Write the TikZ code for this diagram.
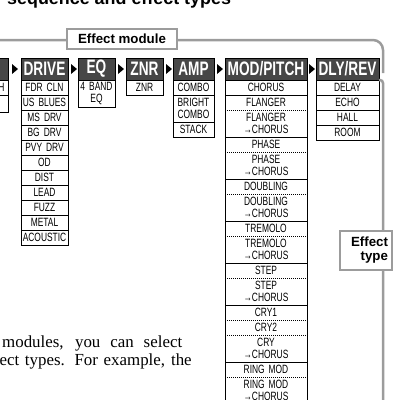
\documentclass[tikz,border=0pt]{standalone}
\usepackage{fontspec}
\setmainfont{Liberation Serif}
\newfontfamily\condfont[FakeStretch=0.7]{Liberation Sans}
\newfontfamily\lblfont{Liberation Sans}
\usepackage{xcolor}
\usetikzlibrary{calc,positioning}
\definecolor{hdgray}{HTML}{474747}
\definecolor{brgray}{HTML}{9C9C9C}

\begin{document}
\begin{tikzpicture}[x=1pt, y=-1pt,
  hd/.style={draw=black, line width=1pt, fill=hdgray, text=white, font=\condfont\bfseries\fontsize{19.5}{20}\selectfont, minimum height=22, inner sep=0pt, outer sep=0pt, align=center},
  cell/.style={draw=black, line width=1pt, font=\condfont\fontsize{12}{12.5}\selectfont, minimum height=15, inner sep=0pt, outer sep=0pt, align=center},
  tall/.style={cell, minimum height=27},
  modcell/.style={cell, draw=none},
  modtall/.style={tall, draw=none},
  sepline/.style={line width=1pt},
  dotline/.style={line width=0.8pt, dash pattern=on 0.8pt off 1.2pt},
  arrowhd/.style={fill=black},
  bracket/.style={draw=brgray, line width=2.5pt},
  tag/.style={draw=brgray, line width=2pt, fill=white, font=\lblfont\bfseries\fontsize{13.3}{14}\selectfont, inner sep=0pt}]
  \useasboundingbox (0,0) rectangle (400,400);

  \node[anchor=base west, inner sep=0pt, font=\lblfont\bfseries\fontsize{17.9}{20}\selectfont] (title) at (7,4.5) {sequence and effect types};

  \coordinate (brtop) at (-5,40);
  \coordinate (brend) at (383,73);
  \draw[bracket, rounded corners=10pt] (brtop) -| (brend);
  \node[tag, minimum width=110, minimum height=20] (efmod) at (122,39) {Effect module};

  \node[hd, text width=40, anchor=north east] (prevhd) at (8,58) {};
  \node[cell, text width=33, inner xsep=3.5pt, align=right, below=0pt of prevhd] (prev1) {H};
  \node[cell, text width=40, minimum height=17, below=0pt of prev1] (prev2) {};

  \node[hd, text width=47, anchor=north west] (drivehd) at (21,58) {DRIVE};
  \node[cell, text width=47, below=0pt of drivehd] (fdr) {FDR CLN};
  \node[cell, text width=47, below=0pt of fdr] (usb) {US BLUES};
  \node[cell, text width=47, below=0pt of usb] (msd) {MS DRV};
  \node[cell, text width=47, below=0pt of msd] (bgd) {BG DRV};
  \node[cell, text width=47, below=0pt of bgd] (pvy) {PVY DRV};
  \node[cell, text width=47, below=0pt of pvy] (od) {OD};
  \node[cell, text width=47, below=0pt of od] (dist) {DIST};
  \node[cell, text width=47, below=0pt of dist] (lead) {LEAD};
  \node[cell, text width=47, below=0pt of lead] (fuzz) {FUZZ};
  \node[cell, text width=47, below=0pt of fuzz] (metal) {METAL};
  \node[cell, text width=47, below=0pt of metal] (acou) {ACOUSTIC};

  \node[hd, text width=37, anchor=north west] (eqhd) at (78,58) {EQ};
  \node[tall, text width=37, below=0pt of eqhd] (band) {4 BAND\\EQ};

  \node[hd, text width=37, anchor=north west] (znrhd) at (126,58) {ZNR};
  \node[cell, text width=37, below=0pt of znrhd] (znr) {ZNR};

  \node[hd, text width=41, anchor=north west] (amphd) at (173,58) {AMP};
  \node[cell, text width=41, below=0pt of amphd] (combo) {COMBO};
  \node[tall, text width=41, below=0pt of combo] (bright) {BRIGHT\\COMBO};
  \node[cell, text width=41, below=0pt of bright] (stack) {STACK};

  \node[hd, text width=82, anchor=north west] (modhd) at (225,58) {MOD/PITCH};
  \node[modcell, text width=82, below=0pt of modhd] (mchor) {CHORUS};
  \node[modcell, text width=82, below=0pt of mchor] (mfl) {FLANGER};
  \node[modtall, text width=82, below=0pt of mfl] (mflc) {FLANGER\\→CHORUS};
  \node[modcell, text width=82, below=0pt of mflc] (mph) {PHASE};
  \node[modtall, text width=82, below=0pt of mph] (mphc) {PHASE\\→CHORUS};
  \node[modcell, text width=82, below=0pt of mphc] (mdb) {DOUBLING};
  \node[modtall, text width=82, below=0pt of mdb] (mdbc) {DOUBLING\\→CHORUS};
  \node[modcell, text width=82, below=0pt of mdbc] (mtr) {TREMOLO};
  \node[modtall, text width=82, below=0pt of mtr] (mtrc) {TREMOLO\\→CHORUS};
  \node[modcell, text width=82, below=0pt of mtrc] (mst) {STEP};
  \node[modtall, text width=82, below=0pt of mst] (mstc) {STEP\\→CHORUS};
  \node[modcell, text width=82, below=0pt of mstc] (mcr1) {CRY1};
  \node[modcell, text width=82, below=0pt of mcr1] (mcr2) {CRY2};
  \node[modtall, text width=82, below=0pt of mcr2] (mcrc) {CRY\\→CHORUS};
  \node[modcell, text width=82, below=0pt of mcrc] (mrm) {RING MOD};
  \node[modtall, text width=82, below=0pt of mrm] (mrmc) {RING MOD\\→CHORUS};
  \draw[sepline] (modhd.south west) -- (mrmc.south west);
  \draw[sepline] (modhd.south east) -- (mrmc.south east);
  \draw[sepline] (mchor.south west) -- (mchor.south east);
  \draw[dotline] (mfl.south west) -- (mfl.south east);
  \draw[sepline] (mflc.south west) -- (mflc.south east);
  \draw[dotline] (mph.south west) -- (mph.south east);
  \draw[sepline] (mphc.south west) -- (mphc.south east);
  \draw[dotline] (mdb.south west) -- (mdb.south east);
  \draw[sepline] (mdbc.south west) -- (mdbc.south east);
  \draw[dotline] (mtr.south west) -- (mtr.south east);
  \draw[sepline] (mtrc.south west) -- (mtrc.south east);
  \draw[dotline] (mst.south west) -- (mst.south east);
  \draw[sepline] (mstc.south west) -- (mstc.south east);
  \draw[dotline] (mcr1.south west) -- (mcr1.south east);
  \draw[dotline] (mcr2.south west) -- (mcr2.south east);
  \draw[sepline] (mcrc.south west) -- (mcrc.south east);
  \draw[dotline] (mrm.south west) -- (mrm.south east);

  \node[hd, text width=63, anchor=north west] (dlyhd) at (316,58) {DLY/REV};
  \node[cell, text width=63, below=0pt of dlyhd] (delay) {DELAY};
  \node[cell, text width=63, below=0pt of delay] (echo) {ECHO};
  \node[cell, text width=63, below=0pt of echo] (hall) {HALL};
  \node[cell, text width=63, below=0pt of hall] (room) {ROOM};

  \fill[arrowhd] ($(prevhd.east)+(4,-5)$) -- ++(6,5) -- ++(-6,5) -- cycle;
  \fill[arrowhd] ($(drivehd.east)+(3,-5)$) -- ++(6,5) -- ++(-6,5) -- cycle;
  \fill[arrowhd] ($(eqhd.east)+(3,-5)$) -- ++(6,5) -- ++(-6,5) -- cycle;
  \fill[arrowhd] ($(znrhd.east)+(3,-5)$) -- ++(6,5) -- ++(-6,5) -- cycle;
  \fill[arrowhd] ($(amphd.east)+(3,-5)$) -- ++(6,5) -- ++(-6,5) -- cycle;
  \fill[arrowhd] ($(modhd.east)+(2,-5)$) -- ++(6,5) -- ++(-6,5) -- cycle;

  \coordinate (tyend) at (383,410);
  \draw[bracket, rounded corners=3pt] (dlyhd.south east) -| (tyend);
  \node[tag, minimum width=52, minimum height=39, text width=44, inner xsep=4pt, align=right] (eftype) at (366,250.5) {Effect\\type};

  \node[anchor=base west, inner sep=0pt, font=\fontsize{16.9}{20}\selectfont] (bodya) at (2,347) {\makebox[180pt][s]{modules, you can select}};
  \node[anchor=base west, inner sep=0pt, font=\fontsize{16.9}{20}\selectfont] (bodyb) at (-0.5,365) {\makebox[192pt][s]{ect types. For example, the}};
\end{tikzpicture}
\end{document}
